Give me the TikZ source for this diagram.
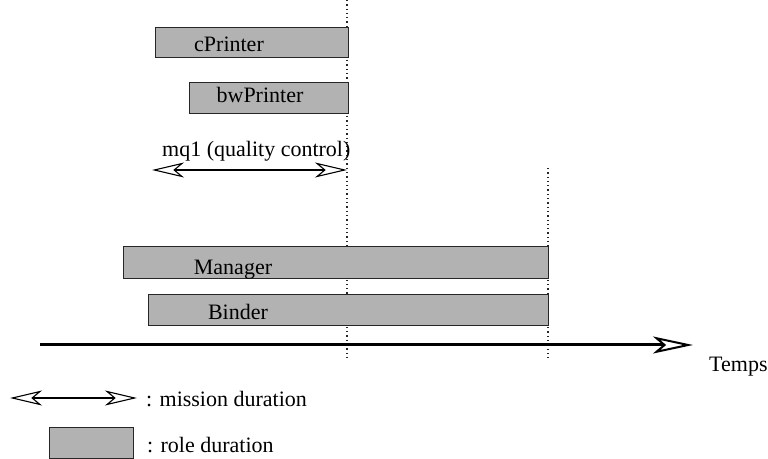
\documentclass[tikz,border=0pt]{standalone}
\usepackage{fontspec}
\setmainfont{Liberation Serif}
\usetikzlibrary{arrows.meta, positioning}

\tikzset{
  mtip/.tip={Stealth[open, length=32bp, width=15bp, inset=9bp]},
  ttip/.tip={Stealth[open, length=40bp, width=17bp, inset=10bp, line width=2bp]},
}

\begin{document}
\begin{tikzpicture}[x=1bp, y=-1bp, every node/.style={font=\fontsize{22bp}{26bp}\selectfont},
  rolebox/.style={draw=black!85, line width=0.9bp, fill=black!30, inner sep=0pt, outer sep=0pt},
  rolename/.style={anchor=base, inner sep=0pt},
  legendtext/.style={anchor=base west, inner sep=0pt},
  mission/.style={mtip-mtip, line width=1.1bp},
  deadline/.style={black!85, line width=1.1bp, dash pattern=on 1.3bp off 3bp}]
\useasboundingbox (0,0) rectangle (768,459);
% deadlines
\coordinate (d1top) at (347,0);
\coordinate (d1bot) at (347,358);
\coordinate (d2top) at (548,168);
\coordinate (d2bot) at (548,358);
\draw[deadline] (d1top) -- (d1bot);
\draw[deadline] (d2top) -- (d2bot);
% roles
\node[rolebox, minimum width=193bp, minimum height=30bp] (cprinter) at (251.5,42) {};
\node[rolebox, minimum width=159bp, minimum height=31bp] (bwprinter) at (268.5,97.5) {};
\node[rolebox, minimum width=425bp, minimum height=32bp] (manager) at (335.5,262) {};
\node[rolebox, minimum width=400bp, minimum height=31bp] (binder) at (348,309.5) {};
\node[rolename] (cprintername) at (229,52) {cPrinter};
\node[rolename] (bwprintername) at (260,103) {bwPrinter};
\node[rolename] (managername) at (233,275) {Manager};
\node[rolename] (bindername) at (238,320) {Binder};
% mission
\coordinate (mqstart) at (152,170);
\coordinate (mqend) at (347,170);
\draw[mission] (mqstart) -- (mqend);
\node[legendtext] (mqname) at (162,157) {mq1 (quality control)};
% time axis
\coordinate (t0) at (40,345);
\coordinate (tend) at (693,345);
\draw[-ttip, line width=3bp] (t0) -- (tend);
\node[legendtext] (temps) at (709,372) {Temps};
% legend
\coordinate (lgstart) at (10,398);
\coordinate (lgend) at (137,398);
\draw[mission] (lgstart) -- (lgend);
\node[legendtext] (lgmission) at (146,406) {: mission duration};
\node[rolebox, minimum width=84bp, minimum height=31bp] (lgbox) at (91,442.5) {};
\node[legendtext] (lgrole) at (147,452) {: role duration};
\end{tikzpicture}
\end{document}
